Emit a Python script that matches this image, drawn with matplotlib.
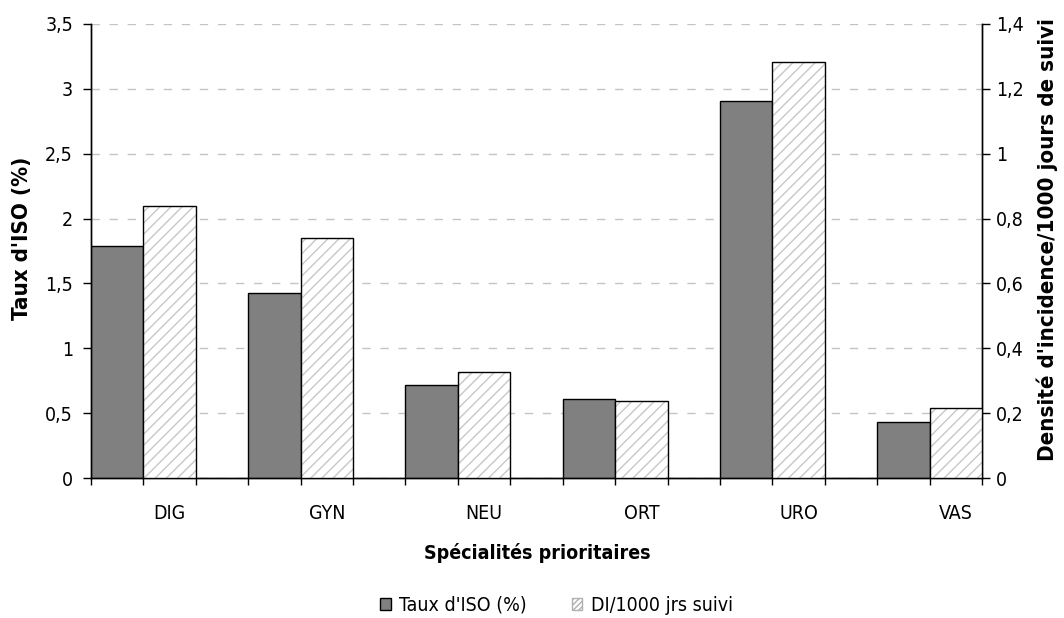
import numpy as np
import matplotlib
matplotlib.use("Agg")
import matplotlib.pyplot as plt
from matplotlib.patches import Patch
from matplotlib.ticker import FuncFormatter

plt.rcParams['font.family'] = ['DejaVu Sans']
plt.rcParams['font.stretch'] = 'condensed'
plt.rcParams['hatch.linewidth'] = 1.0

categories = ['DIG', 'GYN', 'NEU', 'ORT', 'URO', 'VAS']
taux_iso = [1.79, 1.43, 0.72, 0.61, 2.91, 0.43]          # axe gauche (%)
densite = [0.84, 0.74, 0.327, 0.237, 1.283, 0.216]      # axe droit (DI/1000 jrs)

FS = 14
dark = '#808080'

fig = plt.figure(figsize=(10.64, 6.18), dpi=100)
ax = fig.add_axes([0.0855, 0.2265, 0.8375, 0.7347])
ax2 = ax.twinx()

x = np.arange(len(categories))
w = 1 / 3

ax.bar(x - w / 2, taux_iso, w, color=dark, edgecolor='black', linewidth=1, zorder=3)
ax2.bar(x + w / 2, densite, w, color='white', edgecolor='#c8c8c8', hatch='///',
        linewidth=0, zorder=3)
ax2.bar(x + w / 2, densite, w, fill=False, edgecolor='black', linewidth=1, zorder=4)

# axes y
comma = FuncFormatter(lambda v, p: f'{v:g}'.replace('.', ','))
ax.set_ylim(0, 3.5)
ax.set_yticks(np.arange(0, 3.51, 0.5))
ax.yaxis.set_major_formatter(comma)
ax2.set_ylim(0, 1.4)
ax2.set_yticks(np.arange(0, 1.41, 0.2))
ax2.yaxis.set_major_formatter(comma)
ax.grid(axis='y', color='#c4c4c4', linestyle=(0, (6, 7)), linewidth=1, zorder=0)

# axe x : traits aux bords des barres, libellés sous la barre hachurée
ax.set_xlim(-w, len(categories) - 1 + w)
edges = np.sort(np.concatenate([x - w, x, x + w]))
ax.set_xticks(edges)
ax.set_xticklabels([])
ax.set_xticks(x + w / 2, minor=True)
ax.set_xticklabels(categories, minor=True, fontsize=FS)
ax.tick_params(axis='x', which='major', direction='out', length=5, width=1)
ax.tick_params(axis='x', which='minor', length=0, pad=19)

ax.tick_params(axis='y', direction='out', length=6, width=1, labelsize=FS, pad=7)
ax2.tick_params(axis='y', direction='out', length=6, width=1, labelsize=FS, pad=4)

for a in (ax, ax2):
    a.spines['top'].set_visible(False)
    for s in a.spines.values():
        s.set_linewidth(1)

fig.text(0.021, 0.615, "Taux d'ISO (%)", rotation=90, ha='center', va='center',
         fontsize=16, fontweight='bold')
fig.text(0.984, 0.613, "Densité d'incidence/1000 jours de suivi", rotation=90,
         ha='center', va='center', fontsize=16, fontweight='bold')
fig.text(0.505, 0.105, "Spécialités prioritaires", ha='center', va='center',
         fontsize=FS, fontweight='bold')

handles = [Patch(facecolor=dark, edgecolor='black', linewidth=1),
           Patch(facecolor='white', edgecolor='#b0b0b0', hatch='//////', linewidth=1)]
fig.legend(handles, ["Taux d'ISO (%)", "DI/1000 jrs suivi"], loc='center',
           bbox_to_anchor=(0.523, 0.021), ncol=2, frameon=False, fontsize=FS,
           handlelength=0.55, handleheight=0.55, handletextpad=0.45,
           columnspacing=2.3)

fig.savefig('out.png', dpi=100)
